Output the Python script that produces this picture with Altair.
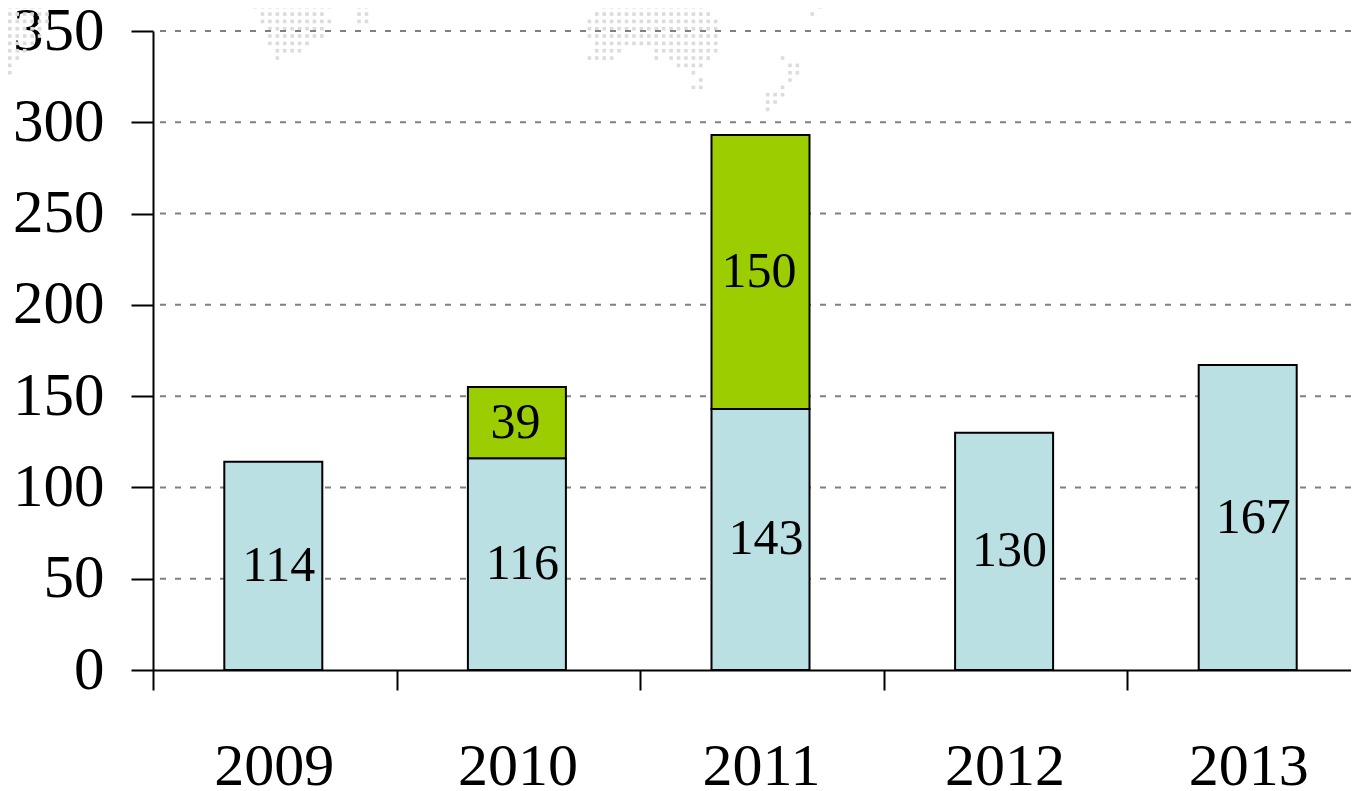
import altair as alt
import pandas as pd

years = ["2009", "2010", "2011", "2012", "2013"]
blue_values = [114, 116, 143, 130, 167]
green_values = [0, 39, 150, 0, 0]
y_ticks = [0, 50, 100, 150, 200, 250, 300, 350]

# Dotted world-map backdrop: (row, first column, last column)
map_runs = [
    (0,0,6),(1,0,5),(2,0,6),(3,0,6),(4,0,5),(5,0,5),(6,0,4),(7,0,3),(8,0,2),(9,0,1),(10,0,1),(11,0,0),
    (0,34,44),(0,48,50),(1,34,44),(1,48,49),(2,35,43),(2,48,49),(3,35,44),(3,48,49),
    (4,36,43),(5,36,43),(6,36,41),(7,37,40),(8,37,37),
    (0,83,94),(1,81,94),(2,80,95),(3,79,96),(4,79,96),(5,79,96),(6,80,96),
    (7,80,83),(7,88,96),(8,79,82),(8,88,88),(8,90,95),(9,91,94),(10,93,93),(11,94,94),(12,93,94),
    (0,107,108),(0,111,111),(1,110,110),(2,109,109),
    (8,105,105),(9,106,107),(10,106,107),(11,106,106),(12,105,105),(13,103,105),(14,103,104),(15,103,103),
]

FONT = "Liberation Serif"

rows = []
for i, y in enumerate(years):
    b, g = blue_values[i], green_values[i]
    rows.append(dict(year=y, series="blue", start=0, end=b, mid=b / 2, label=str(b)))
    if g:
        rows.append(dict(year=y, series="green", start=b, end=b + g, mid=b + g / 2, label=str(g)))
df = pd.DataFrame(rows)
map_df = pd.DataFrame(
    [dict(col=c, row=r) for r, c0, c1 in map_runs for c in range(c0, c1 + 1)]
)
grid_df = pd.DataFrame({"v": y_ticks})

x_scale = alt.Scale(domain=years, range=[0, 1218], paddingInner=0, paddingOuter=0)
y_scale = alt.Scale(domain=[0, 350], nice=False)

dots = alt.Chart(map_df).mark_point(filled=True, shape="square", size=13, color="#dcdcdc", opacity=1).encode(
    x=alt.X("col:Q", axis=None, scale=alt.Scale(domain=[0, 100], range=[-150.6, 592.4], nice=False, zero=False)),
    y=alt.Y("row:Q", axis=None, scale=alt.Scale(domain=[0, 10], range=[-31.6, 41.7], nice=False, zero=False)),
)

grid = alt.Chart(grid_df).transform_filter("datum.v > 0").mark_rule(
    color="#808080", strokeWidth=2, strokeDash=[6, 9]
).encode(y=alt.Y("v:Q", axis=None, scale=y_scale))

bars = alt.Chart(df).mark_bar(size=98, stroke="black", strokeWidth=2, xOffset=-1.5).encode(
    x=alt.X("year:N", scale=x_scale, sort=years, title=None,
            axis=alt.Axis(tickBand="extent", labelAngle=0, tickSize=20, tickWidth=2, tickColor="black",
                          domainColor="black", domainWidth=2, labelFont=FONT, labelFontSize=60,
                          labelColor="black", labelPadding=47, labelOffset=-1, grid=False)),
    y=alt.Y("start:Q", scale=y_scale, title=None,
            axis=alt.Axis(values=y_ticks, tickSize=22, tickWidth=2, tickColor="black", domainColor="black",
                          domainWidth=2, labelFont=FONT, labelFontSize=61, labelColor="black",
                          labelPadding=27, grid=False)),
    y2="end:Q",
    color=alt.Color("series:N", legend=None,
                    scale=alt.Scale(domain=["blue", "green"], range=["#BAE0E3", "#9BCD00"])),
)

def labels(series, dx):
    return alt.Chart(df).transform_filter(alt.datum.series == series).mark_text(
        font=FONT, fontSize=50, color="black", dx=dx, dy=0
    ).encode(
        x=alt.X("year:N", scale=x_scale, sort=years, axis=None),
        y=alt.Y("mid:Q", scale=y_scale, axis=None),
        text="label:N",
    )

chart = alt.layer(dots, grid, bars, labels("blue", 4), labels("green", -3)).resolve_scale(
    x="independent", y="independent", color="independent"
).properties(
    width=1198, height=639,
    padding={"left": 145, "top": 23, "right": 0, "bottom": 120},
    autosize=alt.AutoSizeParams(type="none"),
    background="white",
).configure_view(stroke=None)

chart.save("out.html", embed_options={"renderer": "svg", "actions": False})
